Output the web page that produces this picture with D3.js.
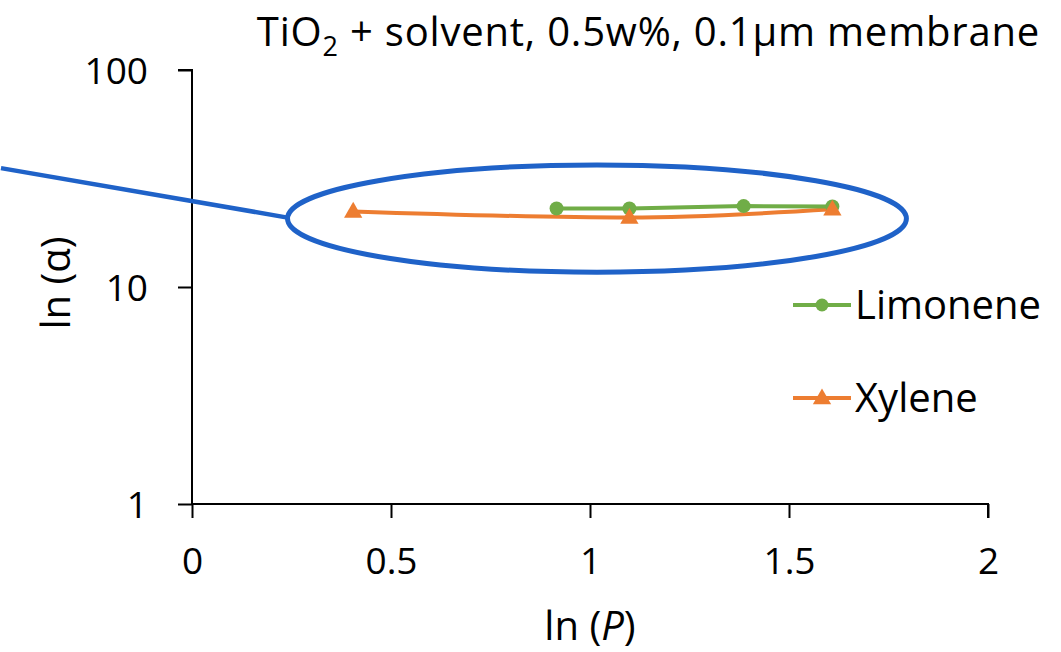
<!DOCTYPE html>
<html>
<head>
<meta charset="utf-8">
<script src="https://cdn.jsdelivr.net/npm/d3@7"></script>
<style>
  body { margin: 0; background: #fff; }
  svg text { font-family: "Open Sans", Lato, sans-serif; fill: #000; }
</style>
</head>
<body>
<svg id="chart"></svg>
<script>
(function() {

// x = ln(P), y = alpha (log scale)
const limoneneX = [0.916, 1.099, 1.386, 1.609];
const limoneneY = [23.0, 23.0, 23.6, 23.5];
const xyleneX = [0.405, 1.099, 1.609];
const xyleneY = [22.3, 20.9, 22.8];

const xTicks = [0, 0.5, 1, 1.5, 2];
const yTicks = [1, 10, 100];

const titleMain = "TiO";
const titleSub = "2";
const titleRest = " + solvent, 0.5w%, 0.1μm membrane";

// callout ellipse extent and leader start, in data units
const calloutX = [0.24, 1.795];
const calloutY = [11.7, 36.5];
const leaderStart = [-0.48, 35.3];

const colorLimonene = "#70ad47";
const colorXylene = "#ed7d31";
const colorCallout = "#1f62c8";
const tickFont = 37;
const labelFont = 40;

const W = 1061, H = 652;
const margin = { top: 70, right: 73, bottom: 148, left: 192 };
const width = W - margin.left - margin.right;
const height = H - margin.top - margin.bottom;

const svg = d3.select("#chart").attr("width", W).attr("height", H);

const x = d3.scaleLinear().domain([0, 2]).range([margin.left, margin.left + width]);
const y = d3.scaleLog().domain([1, 100]).range([margin.top + height, margin.top]);

// title
const title = svg.append("text")
    .attr("x", 1040)
    .attr("y", 46)
    .attr("text-anchor", "end")
    .attr("letter-spacing", 0.8)
    .attr("font-size", labelFont);
title.append("tspan").text(titleMain);
title.append("tspan").attr("dy", 10).attr("font-size", 27).text(titleSub);
title.append("tspan").attr("dy", -10).text(titleRest);

// y axis
const yAxis = svg.append("g")
    .attr("transform", `translate(${margin.left},0)`)
    .call(d3.axisLeft(y).tickValues(yTicks).tickFormat(d3.format("d")).tickSize(14).tickPadding(30));
yAxis.select(".domain").attr("stroke", "#000").attr("stroke-width", 2).attr("d", `M-14,${y(100)}H0V${y(1)}`);
yAxis.selectAll(".tick line").attr("stroke", "#000").attr("stroke-width", 2);
yAxis.selectAll(".tick text").attr("font-size", tickFont).attr("font-family", "'Open Sans', sans-serif").attr("dy", "0.36em");

// x axis
const xAxis = svg.append("g")
    .attr("transform", `translate(0,${margin.top + height})`)
    .call(d3.axisBottom(x).tickValues(xTicks).tickFormat(d => String(d)).tickSize(14).tickPadding(30));
xAxis.select(".domain").attr("stroke", "#000").attr("stroke-width", 2).attr("d", `M${x(0)},0H${x(2)}V14`);
xAxis.selectAll(".tick line").attr("stroke", "#000").attr("stroke-width", 2);
xAxis.selectAll(".tick text").attr("font-size", tickFont).attr("font-family", "'Open Sans', sans-serif");

// axis titles
const xt = svg.append("text")
    .attr("x", x(1))
    .attr("y", 640)
    .attr("text-anchor", "middle")
    .attr("font-size", labelFont);
xt.append("tspan").text("ln (");
xt.append("tspan").attr("font-style", "italic").text("P");
xt.append("tspan").text(")");

svg.append("text")
    .attr("transform", `translate(70,${y(10) - 4}) rotate(-90)`)
    .attr("text-anchor", "middle")
    .attr("font-size", labelFont)
    .text("ln (α)");

// series
const limData = d3.zip(limoneneX, limoneneY);
const xylData = d3.zip(xyleneX, xyleneY);

svg.append("path")
    .attr("d", d3.line().x(d => x(d[0])).y(d => y(d[1])).curve(d3.curveMonotoneX)(xylData))
    .attr("fill", "none")
    .attr("stroke", colorXylene)
    .attr("stroke-width", 4);

svg.append("path")
    .attr("d", d3.line().x(d => x(d[0])).y(d => y(d[1]))(limData))
    .attr("fill", "none")
    .attr("stroke", colorLimonene)
    .attr("stroke-width", 4);

svg.selectAll(".lim-pt")
    .data(limData)
    .enter()
    .append("circle")
    .attr("class", "lim-pt")
    .attr("cx", d => x(d[0]))
    .attr("cy", d => y(d[1]))
    .attr("r", 7)
    .attr("fill", colorLimonene);

const tri = d3.symbol().type(d3.symbolTriangle).size(145);
svg.selectAll(".xyl-pt")
    .data(xylData)
    .enter()
    .append("path")
    .attr("class", "xyl-pt")
    .attr("transform", d => `translate(${x(d[0])},${y(d[1]) + 1})`)
    .attr("d", tri)
    .attr("fill", colorXylene);

// callout: ellipse around the data and a leader line to it
const ex0 = x(calloutX[0]), ex1 = x(calloutX[1]);
const ey0 = y(calloutY[1]), ey1 = y(calloutY[0]);
const cx = (ex0 + ex1) / 2, cy = (ey0 + ey1) / 2;
svg.append("line")
    .attr("x1", x(leaderStart[0]))
    .attr("y1", y(leaderStart[1]))
    .attr("x2", ex0)
    .attr("y2", cy - 1)
    .attr("stroke", colorCallout)
    .attr("stroke-width", 4.5);
svg.append("ellipse")
    .attr("cx", cx)
    .attr("cy", cy)
    .attr("rx", (ex1 - ex0) / 2)
    .attr("ry", (ey1 - ey0) / 2)
    .attr("fill", "none")
    .attr("stroke", colorCallout)
    .attr("stroke-width", 5);

// legend
const legend = [
    { name: "Limonene", color: colorLimonene, sym: "circle", yy: 305 },
    { name: "Xylene", color: colorXylene, sym: "triangle", yy: 398 }
];
legend.forEach(l => {
    const g = svg.append("g").attr("transform", `translate(793,${l.yy})`);
    g.append("line").attr("x1", 0).attr("x2", 58).attr("stroke", l.color).attr("stroke-width", 4);
    if (l.sym === "circle") {
        g.append("circle").attr("cx", 29).attr("r", 6.5).attr("fill", l.color);
    } else {
        g.append("path").attr("transform", "translate(29,1)").attr("d", tri).attr("fill", l.color);
    }
    g.append("text").attr("x", 62).attr("y", 0).attr("dy", "0.36em").attr("font-size", labelFont).text(l.name);
});

})();
</script>
</body>
</html>
